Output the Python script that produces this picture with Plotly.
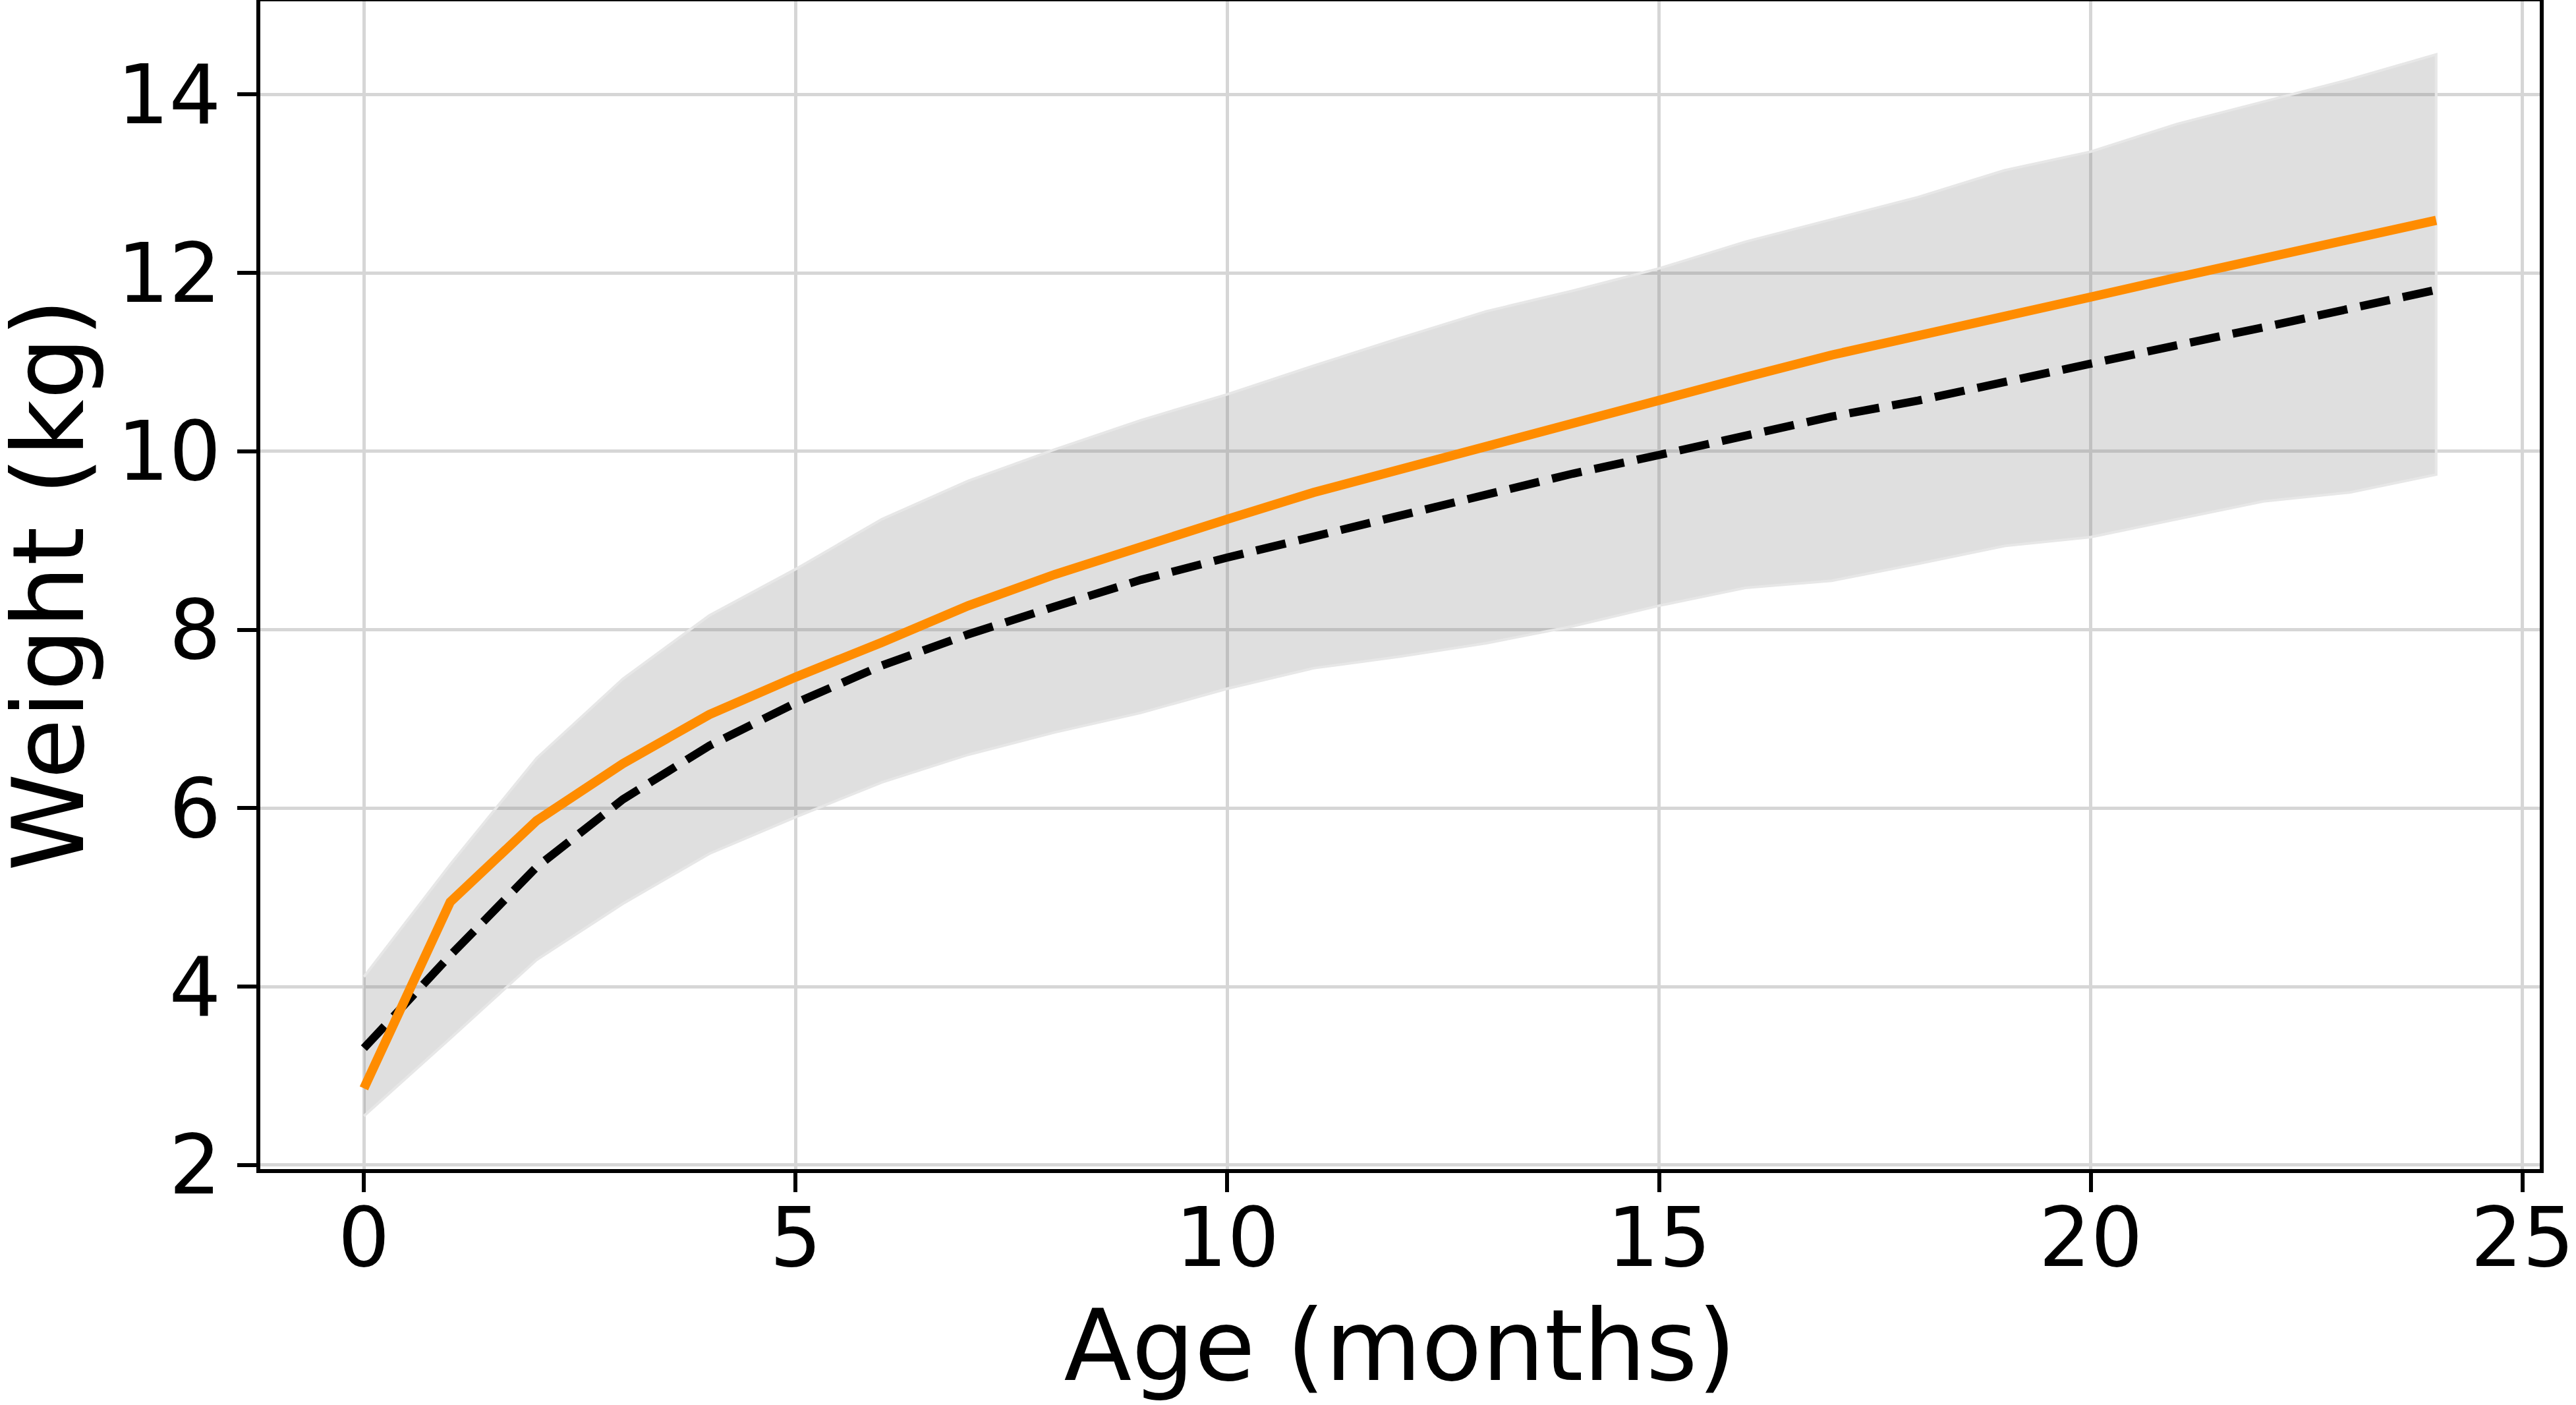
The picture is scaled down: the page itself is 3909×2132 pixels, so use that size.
import plotly.graph_objects as go

# ---- data ----
age_months = list(range(0, 25))

weight_mean = [2.86, 4.95, 5.86, 6.50, 7.05, 7.47, 7.86, 8.27, 8.62, 8.94,
               9.24, 9.54, 9.80, 10.07, 10.32, 10.58, 10.83, 11.08, 11.29, 11.50,
               11.73, 11.95, 12.17, 12.38, 12.59]

weight_reference = [3.31, 4.35, 5.34, 6.10, 6.70, 7.18, 7.60, 7.95, 8.26, 8.56,
                    8.81, 9.05, 9.29, 9.52, 9.75, 9.96, 10.17, 10.39, 10.57, 10.78,
                    11.00, 11.19, 11.39, 11.60, 11.81]

band_upper = [4.11, 5.37, 6.56, 7.45, 8.16, 8.68, 9.24, 9.67, 10.02, 10.35,
              10.64, 10.96, 11.27, 11.57, 11.80, 12.05, 12.35, 12.60, 12.85, 13.15,
              13.36, 13.67, 13.92, 14.17, 14.45]

band_lower = [2.55, 3.42, 4.30, 4.93, 5.49, 5.90, 6.29, 6.60, 6.85, 7.07,
              7.34, 7.57, 7.70, 7.85, 8.04, 8.27, 8.47, 8.55, 8.74, 8.94,
              9.04, 9.24, 9.44, 9.54, 9.74]

x_ticks = [0, 5, 10, 15, 20, 25]
y_ticks = [2, 4, 6, 8, 10, 12, 14]

x_title = "Age (months)"
y_title = "Weight (kg)"

# ---- figure ----
FONT = "DejaVu Sans"
fig = go.Figure()

band_x = age_months + age_months[::-1]
band_y = band_upper + band_lower[::-1]
fig.add_trace(go.Scatter(
    x=band_x, y=band_y, mode="lines", fill="toself",
    fillcolor="rgba(128,128,128,0.25)",
    line=dict(color="rgb(231,231,231)", width=4),
    hoverinfo="skip", showlegend=False,
))

fig.add_trace(go.Scatter(
    x=age_months, y=weight_reference, mode="lines",
    line=dict(color="black", width=12.5, dash="46px,20px"),
    showlegend=False,
))

fig.add_trace(go.Scatter(
    x=age_months, y=weight_mean, mode="lines",
    line=dict(color="#ff8c00", width=14),
    showlegend=False,
))

axis_common = dict(
    showline=True, linecolor="black", linewidth=5.5, mirror=True,
    ticks="outside", ticklen=29, tickwidth=5.5, tickcolor="black",
    showgrid=True, gridcolor="#d6d6d6", gridwidth=5,
    zeroline=False, automargin=False,
    tickfont=dict(family=FONT, size=124, color="black"),
)

fig.update_layout(
    width=3909, height=2132, autosize=False,
    paper_bgcolor="white", plot_bgcolor="white",
    margin=dict(l=395, r=55, t=2, b=358),
    xaxis=dict(range=[-1.2, 25.2], tickvals=x_ticks, ticklabelstandoff=-37,
               title=dict(text=x_title, font=dict(family=FONT, size=150, color="black"),
                          standoff=42),
               **axis_common),
    yaxis=dict(range=[1.955, 15.045], tickvals=y_ticks, **axis_common),
    annotations=[dict(
        text=y_title, textangle=-90, showarrow=False,
        xref="paper", yref="paper", x=0, y=0.5,
        xanchor="left", yanchor="middle", xshift=-410,
        font=dict(family=FONT, size=150, color="black"),
    )],
)

fig.write_html("out.html",
               config={"displayModeBar": False},
               post_script="document.body.style.margin='0';document.body.style.overflow='hidden';")
